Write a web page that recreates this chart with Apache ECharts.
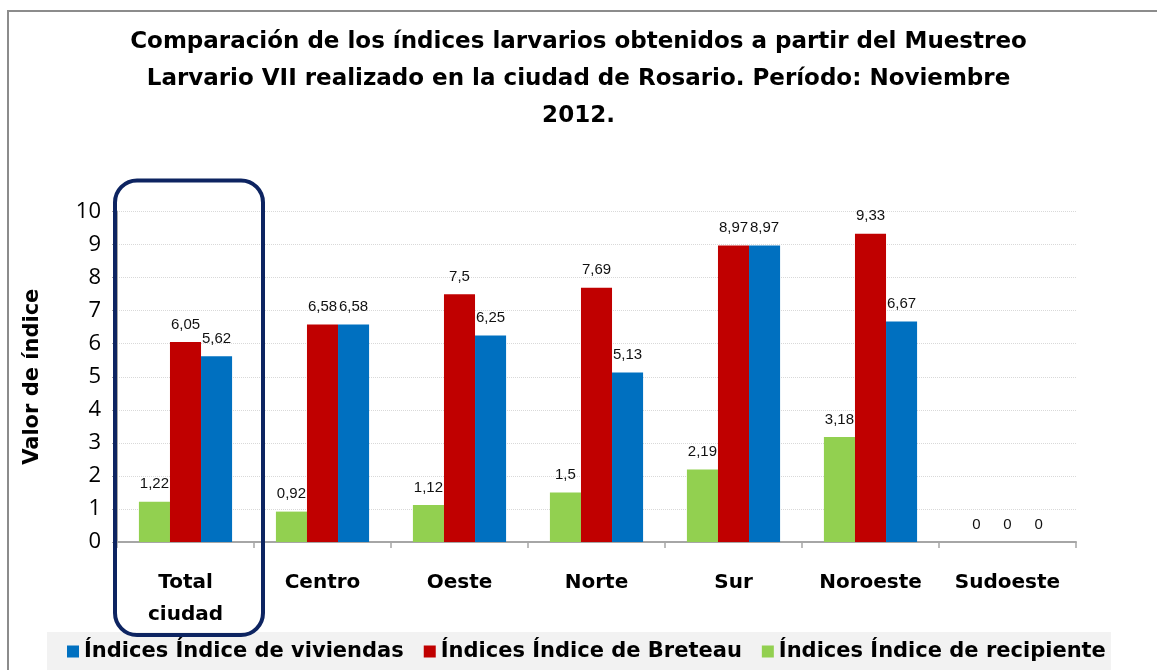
<!DOCTYPE html>
<html lang="es" style="height: 100%">
<head>
  <meta charset="utf-8">
</head>
<body style="height: 100%; margin: 0; background: #fff">
  <div id="container" style="width: 1157px; height: 670px"></div>

  <script type="text/javascript" src="https://cdn.jsdelivr.net/npm/echarts@6/dist/echarts.min.js"></script>
  <script type="text/javascript">
    const categories = ['Total\nciudad', 'Centro', 'Oeste', 'Norte', 'Sur', 'Noroeste', 'Sudoeste'];
    const recipiente = [1.22, 0.92, 1.12, 1.5, 2.19, 3.18, 0];
    const breteau = [6.05, 6.58, 7.5, 7.69, 8.97, 9.33, 0];
    const viviendas = [5.62, 6.58, 6.25, 5.13, 8.97, 6.67, 0];
    const yTicks = { min: 0, max: 10, interval: 1 };

    const dom = document.getElementById('container');
    const myChart = echarts.init(dom, null, { renderer: 'canvas' });

    const boldFont = '"DejaVu Sans", "Open Sans", sans-serif';
    const fmt = (p) => String(p.value).replace('.', ',');
    const barLabel = {
      show: true,
      position: 'top',
      distance: 10,
      formatter: fmt,
      fontFamily: '"Liberation Sans", Arial, sans-serif',
      fontSize: 15,
      color: '#111'
    };

    const option = {
      backgroundColor: '#fff',
      animation: false,
      title: {
        text: 'Comparación de los índices larvarios obtenidos a partir del Muestreo\nLarvario VII realizado en la ciudad de Rosario. Período: Noviembre\n2012.',
        left: 'center',
        top: 19,
        textStyle: {
          fontFamily: boldFont,
          fontWeight: 'bold',
          fontSize: 23,
          lineHeight: 37,
          color: '#000'
        }
      },
      legend: {
        data: ['Índices Índice de viviendas', 'Índices Índice de Breteau', 'Índices Índice de recipiente'],
        left: 47,
        top: 632,
        backgroundColor: '#f2f2f2',
        padding: [9, 5, 12, 20],
        itemGap: 20,
        itemWidth: 12,
        itemHeight: 12,
        icon: 'rect',
        textStyle: {
          fontFamily: boldFont,
          fontWeight: 'bold',
          fontSize: 21,
          color: '#000'
        }
      },
      grid: {
        left: 117,
        right: 81,
        top: 211.5,
        bottom: 128
      },
      xAxis: {
        type: 'category',
        data: categories,
        axisLine: { lineStyle: { color: '#a6a6a6', width: 2 } },
        axisTick: { show: true, length: 6, lineStyle: { color: '#a6a6a6', width: 1.5 } },
        axisLabel: {
          margin: 25,
          fontFamily: boldFont,
          fontWeight: 'bold',
          fontSize: 20,
          lineHeight: 32,
          color: '#000'
        }
      },
      yAxis: {
        type: 'value',
        min: yTicks.min,
        max: yTicks.max,
        interval: yTicks.interval,
        name: 'Valor de índice',
        nameLocation: 'middle',
        nameGap: 74,
        nameTextStyle: {
          fontFamily: boldFont,
          fontWeight: 'bold',
          fontSize: 21,
          color: '#000'
        },
        axisLine: { show: true, lineStyle: { color: '#a6a6a6', width: 2 } },
        axisTick: { show: true, length: 5, lineStyle: { color: '#a6a6a6' } },
        axisLabel: {
          margin: 16,
          fontFamily: '"Open Sans", "Liberation Sans", sans-serif',
          fontSize: 22,
          color: '#000'
        },
        splitLine: { lineStyle: { color: '#d9d9d9', type: 'dotted' } }
      },
      series: [
        {
          name: 'Índices Índice de recipiente',
          type: 'bar',
          data: recipiente,
          barGap: '0%',
          barCategoryGap: '32%',
          itemStyle: { color: '#92d050' },
          label: barLabel
        },
        {
          name: 'Índices Índice de Breteau',
          type: 'bar',
          data: breteau,
          itemStyle: { color: '#c00000' },
          label: barLabel
        },
        {
          name: 'Índices Índice de viviendas',
          type: 'bar',
          data: viviendas,
          itemStyle: { color: '#0070c0' },
          label: barLabel
        }
      ]
    };

    myChart.setOption(option);

    // frame + highlight box around the first category, placed from the axes
    const c0 = myChart.convertToPixel({ gridIndex: 0 }, [0, 10]);
    const c1 = myChart.convertToPixel({ gridIndex: 0 }, [1, 0]);
    const band = c1[0] - c0[0];
    const yBase = c1[1];
    myChart.setOption({
      graphic: [
        {
          type: 'rect',
          shape: { x: 8, y: 11, width: 1300, height: 800 },
          style: { fill: null, stroke: '#8c8c8c', lineWidth: 2 },
          silent: true
        },
        {
          type: 'rect',
          shape: {
            x: c0[0] - band / 2 - 2,
            y: c0[1] - 31,
            width: band + 11,
            height: yBase - c0[1] + 31 + 93,
            r: 22
          },
          style: { fill: null, stroke: '#0d2461', lineWidth: 4 },
          z: 100,
          silent: true
        }
      ]
    });

    window.addEventListener('resize', myChart.resize);
  </script>
</body>
</html>
